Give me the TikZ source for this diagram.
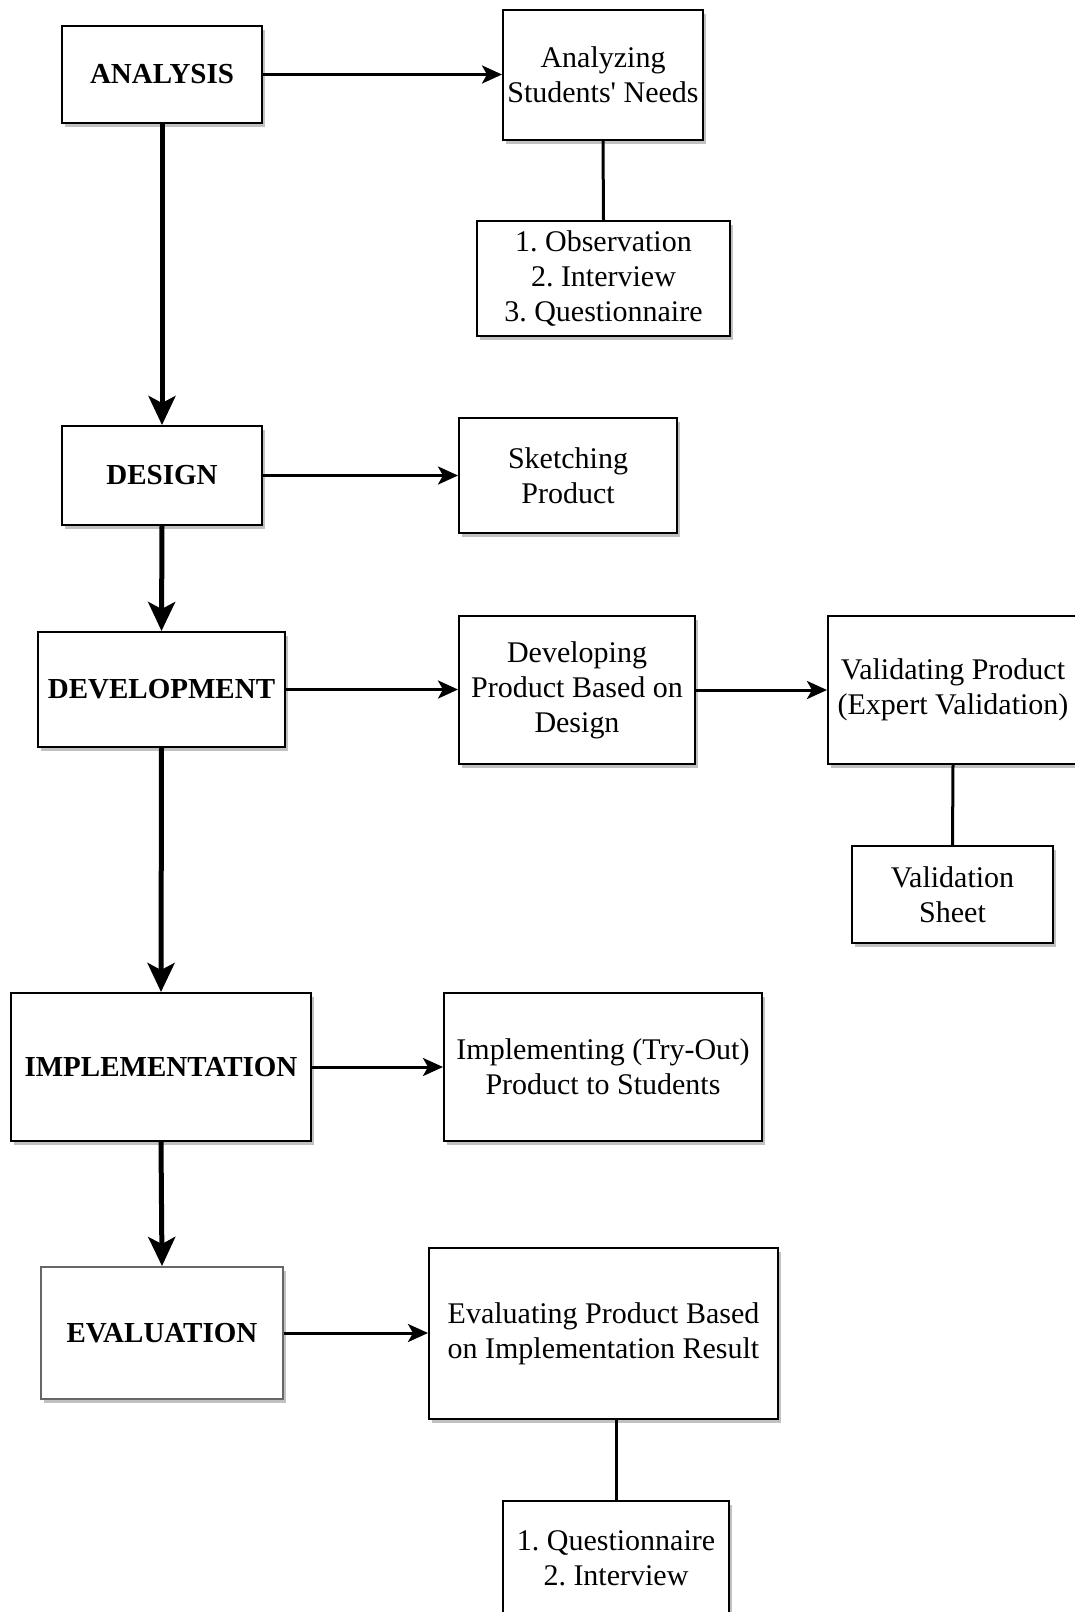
\documentclass[tikz,border=0pt]{standalone}
\usepackage{fontspec}
\setmainfont{Liberation Serif}
\usetikzlibrary{arrows.meta,shadows}
\frenchspacing
\begin{document}
\begin{tikzpicture}[x=1pt,y=-1pt,
  box/.style={draw=black, line width=2pt, fill=white, inner sep=0pt, align=center,
    font=\fontsize{30}{35}\selectfont,
    drop shadow={shadow xshift=3pt, shadow yshift=-4pt, fill=black!30, opacity=0.8}},
  phase/.style={box, font=\fontsize{29}{35}\selectfont\bfseries},
  thinarrow/.style={line width=3pt, -{Stealth[length=20pt, width=18pt, inset=5pt]}},
  thickarrow/.style={line width=5pt, -{Stealth[length=29pt, width=27pt, inset=7pt]}},
  link/.style={line width=3pt}
]
\useasboundingbox (0,0) rectangle (1075,1612);
\fill[white] (0,0) rectangle (1075,1612);
\clip (0,0) rectangle (1075,1612);

% phases
\node[phase, minimum width=200pt, minimum height=97pt] (ana) at (162,74.5) {ANALYSIS};
\node[phase, minimum width=200pt, minimum height=99pt] (des) at (162,475.5) {DESIGN};
\node[phase, minimum width=247pt, minimum height=115pt] (dev) at (161.5,689.5) {DEVELOPMENT};
\node[phase, minimum width=300pt, minimum height=148pt] (imp) at (161,1067) {IMPLEMENTATION};
\node[phase, draw=black!60, minimum width=242pt, minimum height=132pt] (eval) at (162,1333) {EVALUATION};

% activities
\node[box, minimum width=200pt, minimum height=130pt] (need) at (603,75) {Analyzing\\Students\textquotesingle{} Needs};
\node[box, minimum width=253pt, minimum height=115pt] (obs) at (603.5,278.5) {1. Observation\\2. Interview\\3. Questionnaire};
\node[box, minimum width=218pt, minimum height=115pt] (sketch) at (568,475.5) {Sketching\\Product};
\node[box, minimum width=236pt, minimum height=148pt] (devp) at (577,690) {Developing\\Product Based on\\Design};
\node[box, minimum width=250pt, minimum height=148pt] (val) at (953,690) {Validating Product\\(Expert Validation)};
\node[box, minimum width=201pt, minimum height=97pt] (sheet) at (952.5,894.5) {Validation\\Sheet};
\node[box, minimum width=318pt, minimum height=148pt] (impp) at (603,1067) {Implementing (Try-Out)\\Product to Students};
\node[box, minimum width=349pt, minimum height=171pt] (evalp) at (603.5,1333.5) {Evaluating Product Based\\on Implementation Result};
\node[box, minimum width=226pt, minimum height=114pt] (q) at (616,1558) {1. Questionnaire\\2. Interview};

% main flow
\draw[thickarrow] (ana.south) -- (des.north);
\draw[thickarrow] (des.south) -- (dev.north);
\draw[thickarrow] (dev.south) -- (imp.north);
\draw[thickarrow] (imp.south) -- (eval.north);

% side arrows
\draw[thinarrow] (ana.east) -- (ana.east -| need.west);
\draw[thinarrow] (des.east) -- (des.east -| sketch.west);
\draw[thinarrow] (dev.east) -- (dev.east -| devp.west);
\draw[thinarrow] (devp.east) -- (devp.east -| val.west);
\draw[thinarrow] (imp.east) -- (imp.east -| impp.west);
\draw[thinarrow] (eval.east) -- (eval.east -| evalp.west);

% links
\draw[link] (need.south) -- (obs.north);
\draw[link] (val.south) -- (sheet.north);
\draw[link] (q.north) -- (q.north |- evalp.south);
\end{tikzpicture}
\end{document}
